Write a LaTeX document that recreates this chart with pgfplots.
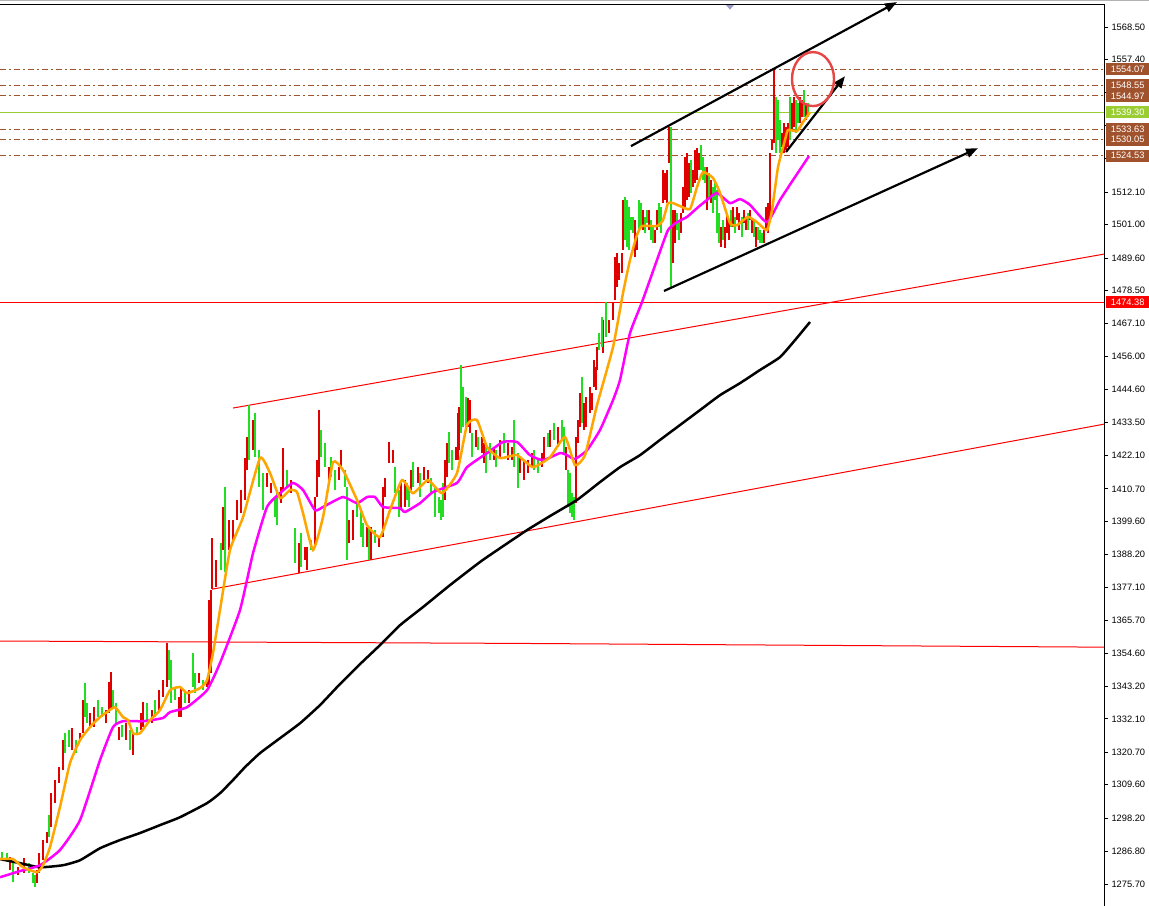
\documentclass[border=0pt]{standalone}
\usepackage{pgfplots}
\pgfplotsset{compat=1.18}
\usepackage{pgfplotstable}
\usepackage{fontspec}
\setmainfont{Liberation Sans}
\usetikzlibrary{arrows.meta}
\definecolor{barred}{HTML}{E00000}
\definecolor{bargreen}{HTML}{22DD22}
\definecolor{maorange}{HTML}{FFA500}
\definecolor{mamag}{HTML}{FF00FF}
\definecolor{sienna}{HTML}{A0522D}
\definecolor{ygreen}{HTML}{9ACD32}
\definecolor{ellred}{HTML}{E84545}

\pgfplotstableread{
x lo hi
10 1280.4 1284.9
18 1278.7 1281.5
24 1279.4 1284.6
37 1276.0 1280.4
39 1279.4 1286.3
43 1283.9 1290.7
47 1289.7 1293.4
51 1295.1 1306.7
55 1303.3 1311.2
59 1310.2 1315.6
63 1314.6 1324.9
72 1321.4 1329.0
80 1324.9 1327.3
83 1327.3 1338.5
90 1329.3 1334.1
94 1329.3 1336.1
106 1330.6 1335.1
109 1334.1 1344.7
111 1335.1 1348.1
119 1324.9 1329.3
126 1324.9 1330.6
133 1319.7 1327.3
141 1328.3 1334.1
143 1329.3 1337.8
152 1330.6 1335.1
159 1335.1 1341.9
163 1339.5 1345.4
167 1343.0 1358.0
179 1332.7 1339.5
181 1332.7 1343.0
189 1337.5 1341.9
199 1344.3 1347.8
207 1343.0 1345.4
209 1343.7 1372.7
211 1347.8 1376.1
212 1376.4 1393.9
216 1377.1 1386.4
223 1389.8 1404.5
229 1389.8 1400.0
233 1393.2 1400.0
237 1400.0 1406.9
241 1402.4 1410.3
245 1406.9 1421.2
247 1417.1 1428.4
253 1423.9 1434.2
267 1411.3 1416.1
271 1409.2 1412.7
281 1405.8 1411.3
283 1410.3 1424.6
291 1409.2 1413.7
299 1381.9 1392.2
305 1386.4 1390.8
307 1382.9 1390.8
315 1390.8 1407.9
317 1407.9 1420.5
319 1414.7 1437.6
329 1413.7 1418.1
339 1413.7 1418.1
341 1418.1 1423.9
349 1392.2 1400.0
353 1393.2 1403.4
367 1390.8 1397.6
371 1386.4 1397.6
379 1390.8 1394.2
383 1394.2 1411.3
385 1407.9 1414.4
389 1419.5 1426.7
393 1419.5 1423.9
401 1403.4 1412.7
405 1404.5 1413.7
411 1410.3 1417.1
418 1412.7 1418.1
424 1413.7 1418.1
428 1412.7 1417.1
445 1406.9 1420.5
447 1414.7 1426.3
456 1420.5 1424.9
458 1420.5 1436.6
459 1423.9 1438.6
468 1431.8 1441.7
470 1429.7 1441.0
476 1425.0 1430.8
482 1422.9 1428.4
484 1419.5 1426.3
494 1420.5 1425.0
500 1421.5 1427.4
508 1420.5 1426.3
512 1420.5 1425.0
520 1416.1 1421.5
524 1413.7 1420.5
528 1416.1 1420.5
532 1418.1 1422.9
542 1418.1 1422.9
544 1420.5 1428.4
550 1425.0 1430.8
558 1425.0 1431.8
566 1417.1 1425.0
576 1405.8 1428.4
578 1426.3 1434.2
580 1431.8 1443.4
584 1430.8 1440.0
586 1431.8 1442.0
590 1436.6 1445.5
592 1437.6 1443.4
594 1445.5 1454.7
596 1444.4 1452.3
597 1451.3 1459.1
603 1457.1 1468.4
609 1463.9 1468.4
613 1468.4 1474.2
615 1475.2 1489.9
617 1479.6 1491.3
619 1482.0 1487.8
622 1484.4 1491.3
623 1492.3 1509.4
635 1489.9 1502.5
637 1492.3 1498.1
643 1499.1 1505.9
649 1499.1 1505.9
655 1494.7 1499.1
657 1499.1 1505.9
663 1508.3 1519.6
665 1509.4 1518.6
667 1508.3 1519.6
669 1522.0 1534.3
673 1487.8 1505.9
675 1494.7 1505.9
681 1498.1 1504.9
683 1504.9 1513.8
685 1507.0 1524.0
687 1509.4 1525.4
689 1510.4 1522.0
693 1513.8 1519.6
695 1515.2 1526.4
697 1516.2 1527.1
699 1519.6 1525.4
707 1505.9 1520.6
711 1508.3 1516.2
721 1493.3 1500.1
725 1493.0 1500.1
727 1498.1 1504.9
729 1495.7 1502.5
733 1500.1 1507.0
737 1502.5 1507.0
739 1499.1 1504.9
744 1501.5 1505.9
746 1499.1 1503.5
750 1502.5 1505.9
752 1498.1 1502.5
756 1493.3 1500.1
764 1494.7 1499.1
766 1499.1 1507.0
768 1498.1 1508.3
770 1502.5 1525.4
772 1526.4 1529.9
774 1528.8 1554.5
782 1527.5 1532.3
784 1525.4 1535.7
786 1526.4 1534.3
788 1527.5 1535.7
792 1533.3 1542.5
794 1534.3 1544.5
800 1535.7 1544.5
802 1537.7 1543.5
806 1536.7 1542.5
}\redbars

\pgfplotstableread{
x lo hi
2 1283.9 1286.6
7 1283.9 1286.3
13 1276.3 1283.2
29 1279.4 1282.9
33 1276.0 1279.4
35 1274.6 1278.7
49 1291.7 1299.2
65 1320.4 1327.3
69 1322.5 1328.3
76 1320.4 1324.9
85 1332.7 1344.3
87 1330.6 1337.5
98 1332.7 1338.5
102 1332.7 1336.1
113 1336.1 1341.9
116 1330.6 1337.5
122 1325.9 1330.0
130 1321.4 1328.3
137 1327.3 1329.3
147 1331.7 1337.5
155 1332.7 1338.5
169 1345.4 1355.6
171 1337.5 1352.2
175 1338.5 1343.0
185 1337.5 1340.9
193 1343.0 1354.6
195 1340.9 1347.8
203 1341.9 1345.4
221 1382.9 1392.2
225 1382.3 1411.3
249 1420.5 1439.3
255 1421.5 1436.6
259 1411.3 1423.9
263 1403.4 1416.1
275 1401.0 1407.9
277 1398.3 1409.2
287 1411.3 1417.1
295 1385.3 1397.3
301 1384.0 1395.6
311 1389.8 1393.2
321 1421.5 1430.8
325 1418.1 1426.3
331 1414.7 1421.5
335 1410.3 1417.1
345 1411.3 1417.1
347 1386.4 1411.3
357 1401.0 1406.9
361 1394.2 1403.4
363 1390.8 1399.0
369 1386.4 1397.6
375 1392.2 1396.6
395 1409.2 1418.1
399 1401.0 1410.3
407 1406.9 1412.7
409 1404.5 1411.3
413 1411.3 1419.8
420 1407.9 1416.1
431 1409.2 1414.4
435 1401.0 1411.3
439 1402.4 1407.9
441 1400.0 1406.9
443 1401.0 1412.7
449 1419.5 1430.1
452 1417.1 1423.9
461 1429.7 1453.0
463 1431.8 1445.5
466 1430.8 1442.0
472 1421.5 1429.7
478 1423.9 1428.4
486 1416.1 1425.0
490 1420.5 1426.3
496 1418.1 1423.9
504 1422.9 1429.7
514 1418.1 1434.2
518 1411.0 1422.9
534 1417.1 1423.9
538 1416.1 1420.5
548 1425.0 1429.7
554 1427.4 1433.2
562 1427.4 1434.2
564 1422.9 1431.8
568 1404.5 1417.1
570 1402.4 1416.1
572 1401.0 1409.2
574 1400.0 1407.9
582 1433.2 1448.9
599 1458.1 1463.9
602 1459.1 1469.4
606 1462.5 1474.5
625 1495.7 1510.4
627 1493.3 1509.4
629 1492.3 1507.0
631 1499.1 1503.5
633 1498.1 1503.5
639 1499.1 1509.4
641 1500.1 1508.3
645 1498.1 1503.5
647 1501.5 1505.9
651 1495.7 1502.5
653 1494.7 1500.1
659 1500.1 1508.3
661 1498.1 1507.0
671 1479.6 1534.3
677 1499.1 1504.9
679 1495.7 1502.5
691 1511.8 1523.0
701 1519.6 1528.2
703 1516.2 1524.0
705 1515.2 1520.6
709 1510.4 1518.6
713 1504.9 1513.8
715 1509.4 1516.2
717 1498.1 1512.8
719 1494.7 1504.9
723 1495.7 1502.5
731 1500.1 1505.9
735 1498.1 1503.5
742 1496.7 1503.5
748 1499.1 1504.9
754 1496.7 1502.5
758 1495.7 1500.1
760 1494.7 1499.1
762 1494.7 1498.1
776 1525.4 1544.5
778 1529.9 1543.5
780 1525.4 1536.7
790 1529.9 1544.5
796 1532.3 1543.5
798 1535.7 1542.5
804 1537.7 1546.9
808 1537.7 1542.5
}\greenbars

\begin{document}
\begin{tikzpicture}
\begin{axis}[name=ax, at={(0,0)}, anchor=south west,
  scale only axis, width=1104pt, height=906pt,
  xmin=0, xmax=1104, ymin=1268.17, ymax=1577.72,
  clip=false,
  axis line style={draw=none},
  xtick=\empty,
  ytick pos=right,
  tick align=outside,
  major tick length=4pt,
  tick style={black, line width=0.8pt},
  ytick={1568.5,1557.4,1546.3,1534.9,1523.5,1512.1,1501.0,1489.6,1478.5,1467.1,1456.0,1444.6,1433.5,1422.1,1410.7,1399.6,1388.2,1377.1,1365.7,1354.6,1343.2,1332.1,1320.7,1309.6,1298.2,1286.8,1275.7},
  yticklabels={1568.50,1557.40,{},{},1523.50,1512.10,1501.00,1489.60,1478.50,1467.10,1456.00,1444.60,1433.50,1422.10,1410.70,1399.60,1388.20,1377.10,1365.70,1354.60,1343.20,1332.10,1320.70,1309.60,1298.20,1286.80,1275.70},
  yticklabel style={font=\fontsize{9.3}{10}\selectfont, text=black},
]
% frame
\draw[gray!60, line width=1pt] (axis cs:0,1577.4) -- (axis cs:1149,1577.4);
\draw[black, line width=0.8pt] (axis cs:0,1576.3) -- (axis cs:1104,1576.3);
\draw[black, line width=0.8pt] (axis cs:1104,1268.17) -- (axis cs:1104,1576.3);
\fill[gray!70!blue!60] (axis cs:726,1576.0) -- (axis cs:734,1576.0) -- (axis cs:730,1574.4) -- cycle;

% horizontal levels
\addplot[sienna, line width=1pt, dash pattern=on 6pt off 3pt on 2pt off 3pt] coordinates {(0,1554.07)(1104,1554.07)};
\addplot[sienna, line width=1pt, dash pattern=on 6pt off 3pt on 2pt off 3pt] coordinates {(0,1548.55)(1104,1548.55)};
\addplot[sienna, line width=1pt, dash pattern=on 6pt off 3pt on 2pt off 3pt] coordinates {(0,1544.97)(1104,1544.97)};
\addplot[sienna, line width=1pt, dash pattern=on 6pt off 3pt on 2pt off 3pt] coordinates {(0,1533.63)(1104,1533.63)};
\addplot[sienna, line width=1pt, dash pattern=on 6pt off 3pt on 2pt off 3pt] coordinates {(0,1530.05)(1104,1530.05)};
\addplot[sienna, line width=1pt, dash pattern=on 6pt off 3pt on 2pt off 3pt] coordinates {(0,1524.53)(1104,1524.53)};
\addplot[ygreen, line width=1pt] coordinates {(0,1539.30)(1104,1539.30)};
\addplot[red, line width=1pt] coordinates {(0,1474.38)(1104,1474.38)};
\addplot[red, line width=1pt] coordinates {(0,1358.7)(510,1357.9)(1104,1356.6)};
% red channel
\addplot[red, line width=1pt] coordinates {(233,1438.3)(1104,1490.9)};
\addplot[red, line width=1pt] coordinates {(212,1376.4)(1104,1432.8)};

% bars
\addplot[draw=none, mark=none, forget plot, error bars/.cd, y dir=plus, y explicit, error mark=none, error bar style={draw=barred, line width=1.4pt}]
  table[x=x, y=lo, y error expr=\thisrow{hi}-\thisrow{lo}] {\redbars};
\addplot[draw=none, mark=none, forget plot, error bars/.cd, y dir=plus, y explicit, error mark=none, error bar style={draw=bargreen, line width=1.4pt}]
  table[x=x, y=lo, y error expr=\thisrow{hi}-\thisrow{lo}] {\greenbars};

% black MA
\addplot[black, line width=2.5pt, smooth, tension=0.3] coordinates {(0,1284.2)(20,1282.8)(40,1281.4)(63,1282.1)(80,1283.8)(100,1287.9)(120,1290.7)(140,1293.1)(160,1295.8)(180,1298.5)(207,1303.3)(220,1306.7)(233,1311.2)(245,1315.6)(260,1320.4)(280,1325.5)(300,1330.6)(320,1336.8)(340,1344.0)(360,1350.8)(380,1357.3)(400,1364.1)(423,1370.3)(450,1377.8)(480,1385.7)(500,1390.4)(527,1396.6)(550,1401.4)(577,1406.9)(600,1413.0)(620,1418.1)(640,1422.2)(660,1427.4)(680,1432.5)(700,1437.6)(720,1442.7)(740,1446.8)(760,1451.3)(780,1455.7)(795,1461.5)(810,1467.7)};
% magenta MA
\addplot[mamag, line width=2.5pt, smooth, tension=0.3] coordinates {(0,1278.0)(20,1280.1)(40,1282.1)(60,1287.3)(80,1297.5)(100,1318.0)(113,1329.3)(123,1331.3)(143,1331.3)(163,1332.4)(170,1334.4)(187,1336.1)(207,1341.9)(220,1351.2)(240,1369.3)(253,1388.7)(267,1404.5)(280,1409.2)(293,1412.7)(303,1410.3)(315,1403.4)(323,1404.5)(343,1407.9)(357,1405.8)(367,1407.9)(375,1407.9)(383,1404.5)(400,1404.1)(405,1402.8)(420,1405.8)(433,1409.6)(457,1412.7)(467,1418.1)(487,1422.9)(503,1426.7)(517,1426.7)(530,1422.2)(543,1420.5)(560,1422.9)(567,1422.2)(575,1420.9)(587,1423.9)(600,1430.8)(613,1441.0)(620,1447.9)(630,1463.9)(642,1474.5)(657,1488.9)(668,1499.1)(677,1501.8)(687,1503.6)(697,1506.6)(707,1509.4)(717,1511.8)(730,1508.3)(740,1509.7)(750,1507.7)(767,1501.8)(780,1509.4)(793,1516.2)(809,1524.4)};
% orange MA
\addplot[maorange, line width=2.5pt, smooth, tension=0.3] coordinates {(0,1284.2)(13,1284.2)(23,1281.4)(37,1279.7)(43,1282.1)(50,1288.3)(60,1302.0)(70,1317.0)(80,1324.8)(90,1329.3)(100,1332.7)(107,1334.4)(115,1336.1)(123,1332.7)(128,1331.7)(133,1327.2)(140,1327.2)(150,1331.7)(160,1335.1)(170,1341.9)(180,1343.0)(187,1340.9)(200,1342.6)(207,1345.3)(213,1354.6)(220,1369.3)(230,1389.8)(243,1401.0)(260,1421.2)(270,1416.1)(280,1407.5)(290,1410.3)(297,1409.6)(303,1402.4)(313,1389.8)(323,1401.0)(333,1419.8)(343,1417.1)(357,1406.9)(367,1398.3)(380,1394.2)(390,1403.4)(402,1413.7)(413,1409.2)(428,1413.7)(442,1409.2)(457,1416.1)(467,1432.5)(477,1434.2)(487,1425.0)(500,1421.2)(517,1422.2)(533,1418.1)(550,1421.5)(565,1428.4)(575,1418.8)(585,1422.2)(597,1439.3)(613,1459.1)(623,1477.6)(630,1488.9)(637,1497.4)(642,1500.5)(657,1500.5)(663,1502.5)(668,1508.3)(673,1508.3)(680,1507.3)(690,1506.3)(697,1513.8)(703,1518.9)(713,1516.9)(720,1511.8)(730,1501.5)(737,1500.8)(748,1503.6)(757,1501.8)(767,1499.1)(772,1505.9)(778,1520.6)(785,1529.9)(788,1533.3)(797,1532.9)(803,1536.0)(810,1539.4)};

% trend lines
\addplot[black, line width=2.2pt, -{Triangle[length=12pt,width=9pt]}] coordinates {(631,1527.8)(897,1577.0)};
\addplot[black, line width=2.2pt, -{Triangle[length=12pt,width=9pt]}] coordinates {(664,1478.3)(978,1527.1)};
\addplot[black, line width=2.2pt, -{Triangle[length=12pt,width=9pt]}] coordinates {(786,1525.8)(845,1551.7)};
\draw[ellred, line width=2.4pt] (axis cs:813,1550.7) ellipse [x radius=21pt, y radius=27pt];

% price labels
\tikzset{plab/.style={anchor=west, inner sep=0pt, minimum width=43pt, minimum height=12pt, text=white, font=\fontsize{9.3}{10}\selectfont}}
\node[plab, fill=sienna] at (axis cs:1106,1554.07) {1554.07};
\node[plab, fill=sienna] at (axis cs:1106,1548.55) {1548.55};
\node[plab, fill=sienna] at (axis cs:1106,1544.97) {1544.97};
\node[plab, fill=ygreen] at (axis cs:1106,1539.30) {1539.30};
\node[plab, fill=sienna] at (axis cs:1106,1533.63) {1533.63};
\node[plab, fill=sienna] at (axis cs:1106,1530.05) {1530.05};
\node[plab, fill=sienna] at (axis cs:1106,1524.53) {1524.53};
\node[plab, fill=red] at (axis cs:1106,1474.38) {1474.38};
\end{axis}
\pgfresetboundingbox
\useasboundingbox (ax.south west) rectangle ([xshift=45pt]ax.north east);
\end{tikzpicture}
\end{document}
